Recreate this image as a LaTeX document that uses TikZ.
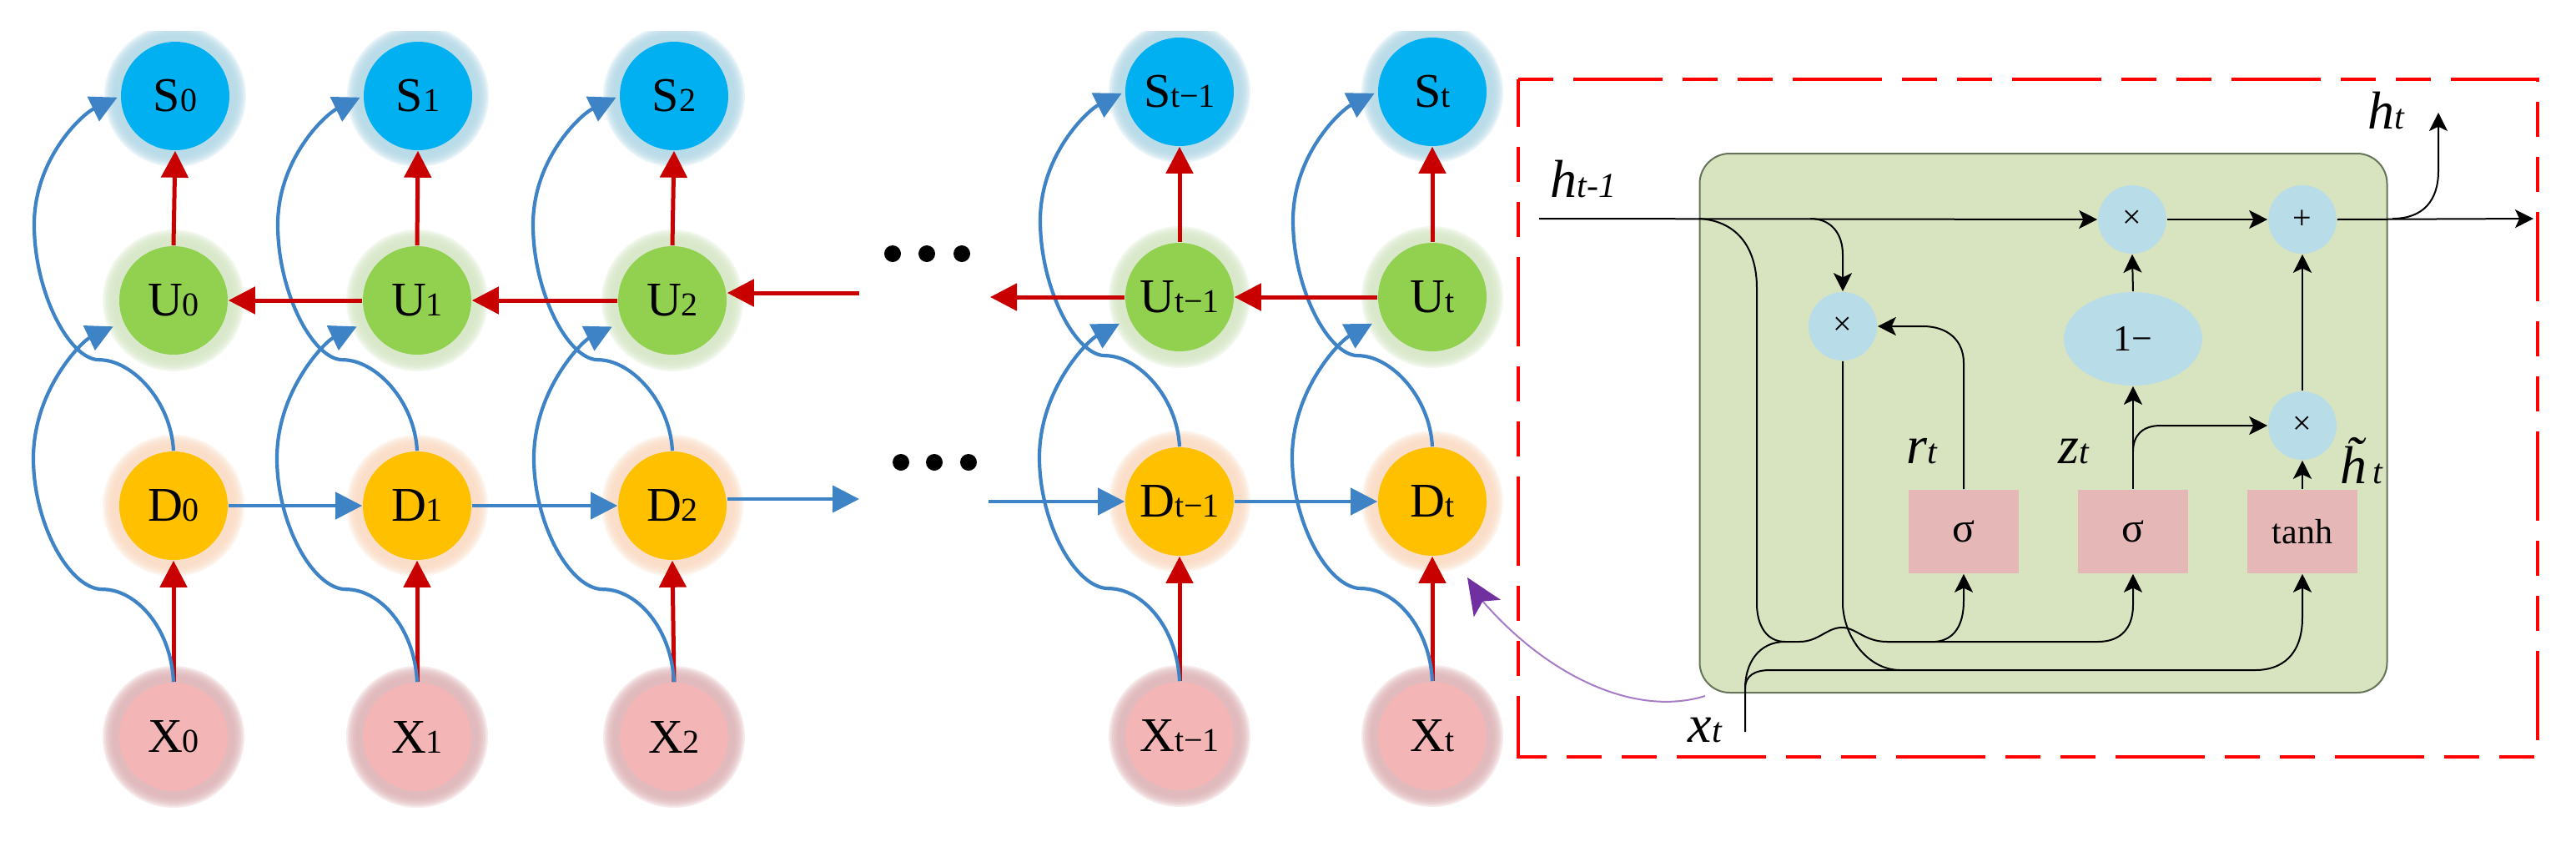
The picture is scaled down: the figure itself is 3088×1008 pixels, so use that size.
\documentclass[tikz,border=0pt]{standalone}
\usepackage{fontspec}
\setmainfont{Liberation Serif}
\usetikzlibrary{arrows.meta,calc,shapes.geometric}
\definecolor{cS}{HTML}{00B0F0}\definecolor{gS}{HTML}{B4DAE8}
\definecolor{cU}{HTML}{92D050}\definecolor{gU}{HTML}{D6E7C6}
\definecolor{cD}{HTML}{FFC000}\definecolor{gD}{HTML}{FBDCC4}
\definecolor{cX}{HTML}{F4B5B6}\definecolor{gX}{HTML}{DFB4B8}
\definecolor{bl}{HTML}{3F83C7}\definecolor{rd}{HTML}{C80000}
\definecolor{cell}{HTML}{D8E4BF}\definecolor{cellb}{HTML}{66745A}
\definecolor{op}{HTML}{B8DCE8}\definecolor{fn}{HTML}{E5B8B7}
\definecolor{pu}{HTML}{7030A0}\definecolor{pul}{HTML}{A67CC8}
\tikzset{
  main/.style={circle,minimum size=32.5pt,inner sep=0pt,text=black},
  redarrow/.style={draw=rd,line width=1.25pt,-{Triangle[length=8pt,width=8pt]}},
  bluearrow/.style={draw=bl,line width=1.05pt,-{Triangle[length=8pt,width=8pt]}},
  blk/.style={draw=black,line width=.5pt},
  blkarrow/.style={blk,-{Stealth[length=5.5pt,width=5.5pt,inset=1.3pt]}},
  opnode/.style={circle,fill=op,minimum size=20.5pt,inner sep=0pt,font=\fontsize{10}{12}\selectfont},
  fnnode/.style={rectangle,fill=fn,minimum width=33pt,minimum height=25pt,inner sep=0pt},
  lab/.style={inner sep=0pt,font=\itshape},
  dotmark/.style={circle,fill=black,minimum size=5pt,inner sep=0pt}
}
\newcommand{\lbl}[2]{\fontsize{14.5}{16}\selectfont #1\fontsize{10}{12}\selectfont #2}
\newcommand{\glownode}[6]{%
  \begin{scope}
  \clip (0,37) rectangle (3088,968);
  \foreach \r in {85,83,81,79,77,75,73}{\fill[#5,opacity=.28] (#2,#3) circle [radius=\r];}
  \end{scope}
  \node[main,fill=#4] (#1) at (#2,#3) {\lbl{#6}{\lblsub}};}
\newcommand{\itlab}[2]{\fontsize{16}{18}\selectfont #1\fontsize{10.5}{12}\selectfont #2}
\begin{document}
\begin{tikzpicture}[x=.25pt,y=-.25pt]
\useasboundingbox (0,0) rectangle (3088,1008);
\fill[white] (0,0) rectangle (3088,1008);
% main grid
\def\lblsub{0}
\glownode{S0}{210}{115}{cS}{gS}{S}\glownode{U0}{208}{360}{cU}{gU}{U}\glownode{D0}{208}{606}{cD}{gD}{D}\glownode{X0}{208}{883}{cX}{gX}{X}
\def\lblsub{1}
\glownode{S1}{501}{115}{cS}{gS}{S}\glownode{U1}{500}{360}{cU}{gU}{U}\glownode{D1}{500}{606}{cD}{gD}{D}\glownode{X1}{500}{883}{cX}{gX}{X}
\def\lblsub{2}
\glownode{S2}{808}{115}{cS}{gS}{S}\glownode{U2}{806}{360}{cU}{gU}{U}\glownode{D2}{806}{606}{cD}{gD}{D}\glownode{X2}{808}{883}{cX}{gX}{X}
\def\lblsub{t−1}
\glownode{Sm}{1414}{110}{cS}{gS}{S}\glownode{Um}{1414}{356}{cU}{gU}{U}\glownode{Dm}{1414}{601}{cD}{gD}{D}\glownode{Xm}{1414}{882}{cX}{gX}{X}
\def\lblsub{t}
\glownode{St}{1717}{110}{cS}{gS}{S}\glownode{Ut}{1717}{356}{cU}{gU}{U}\glownode{Dt}{1717}{601}{cD}{gD}{D}\glownode{Xt}{1717}{882}{cX}{gX}{X}
% vertical red and blue skip curves
\foreach \n in {0,1,2,m,t}{
  \draw[redarrow] (X\n.north) -- (D\n.south);
  \draw[redarrow] (U\n.north) -- (S\n.south);
  \draw[bluearrow,shorten >=3.25pt] (X\n.north)
    .. controls ($(X\n.north)+(-3,-65)$) and ($(X\n.north)+(-45,-111)$) .. ($(X\n.north)+(-85,-111)$)
    .. controls ($(X\n.north)+(-125,-111)$) and ($(X\n.north)+(-168,-190)$) .. ($(X\n.north)+(-168,-268)$)
    .. controls ($(X\n.north)+(-168,-350)$) and ($(X\n.north)+(-110,-408)$) .. (U\n.203);
  \draw[bluearrow,shorten >=1pt] (D\n.north)
    .. controls ($(D\n.north)+(-3,-60)$) and ($(D\n.north)+(-50,-109)$) .. ($(D\n.north)+(-89,-109)$)
    .. controls ($(D\n.north)+(-125,-109)$) and ($(D\n.north)+(-167,-190)$) .. ($(D\n.north)+(-167,-271)$)
    .. controls ($(D\n.north)+(-167,-350)$) and ($(D\n.north)+(-110,-403)$) .. (S\n.west);
}
% horizontals
\draw[redarrow] (U1.west) -- (U0.east);
\draw[redarrow] (U2.west) -- (U1.east);
\draw[redarrow] (Ut.west) -- (Um.east);
\coordinate (uin) at (1030,351);
\coordinate (uout) at (1187,356);
\coordinate (dout) at (1030,598);
\coordinate (din) at (1185,601);
\draw[redarrow] (uin) -- (U2.east |- uin);
\draw[redarrow] (Um.west) -- (uout);
\draw[bluearrow] (D0.east) -- (D1.west);
\draw[bluearrow] (D1.east) -- (D2.west);
\draw[bluearrow] (Dm.east) -- (Dt.west);
\draw[bluearrow] (D2.east |- dout) -- (dout);
\draw[bluearrow] (din) -- (Dm.west);
% dots
\foreach \i/\x/\y in {a/1070/304,b/1111/304,c/1153/304,d/1080/554,e/1120/554,f/1161/554}{
  \node[dotmark] (dot\i) at (\x,\y) {};
}
% red dashed frame
\draw[red,line width=1.15pt,dash pattern=on 26.75pt off 6pt on 10.5pt off 6pt on 10.5pt off 6pt,dash phase=49.25pt]
  (1820,95) -- (3042,95) -- (3042,907) -- (1820,907) -- cycle;
% cell
\node[draw=cellb,fill=cell,line width=.5pt,rounded corners=9pt,minimum width=206pt,minimum height=161.5pt,inner sep=0pt] (cell) at (2449.5,507) {};
% purple
\coordinate (pstart) at (2044,834);
\coordinate (ptip) at (1759,692);
\draw[pul,line width=.5pt] (pstart) .. controls (1960,860) and (1855,810) .. ($(ptip)+(18,28)$);
\draw[pu,line width=.5pt,-{Stealth[length=11pt,width=9.5pt,inset=2.5pt]}] ($(ptip)+(18,28)$) -- (ptip);
% operators
\node[opnode] (mt) at (2556,263) {×};
\node[opnode] (pl) at (2760,263) {+};
\node[opnode] (ml) at (2209,391) {×};
\node[ellipse,fill=op,minimum width=41.5pt,minimum height=28pt,inner sep=0pt,font=\fontsize{11}{13}\selectfont] (one) at (2557,406) {1−};
\node[opnode] (mr) at (2760,510) {×};
\node[fnnode,font=\fontsize{12.5}{14}\selectfont] (s1) at (2354,637) {σ};
\node[fnnode,font=\fontsize{12.5}{14}\selectfont] (s2) at (2557,637) {σ};
\node[fnnode,font=\fontsize{10.5}{12}\selectfont] (th) at (2760,637) {tanh};
% cell wiring
\coordinate (hin) at (1845,262);
\coordinate (hout) at (3037,262);
\coordinate (htop) at (2923,135);
\coordinate (xin) at (2092,877);
\draw[blkarrow] (hin) -- (mt.west);
\draw[blkarrow] (mt.east) -- (pl.west);
\draw[blkarrow] (pl.east) -- (hout);
\draw[blkarrow] (2868,262) .. controls (2905,262) and (2923,240) .. (2923,205) -- (htop);
\draw[blkarrow] (2170,262) .. controls (2195,262) and (2209,280) .. (2209,305) -- (ml.north);
\draw[blk] (2037,262) .. controls (2085,265) and (2106,300) .. (2106,345) -- (2106,723)
  .. controls (2106,750) and (2118,769) .. (2140,769) -- (2157,769)
  .. controls (2180,769) and (2190,752) .. (2208,752)
  .. controls (2225,752) and (2235,769) .. (2262,769) -- (2320,769);
\draw[blkarrow] (2320,769) .. controls (2342,767) and (2354,750) .. (2354,720) -- (s1.south);
\draw[blkarrow] (2262,769) -- (2515,769) .. controls (2540,769) and (2557,755) .. (2557,725) -- (s2.south);
\draw[blk] (ml.south) -- (2209,725) .. controls (2211,765) and (2240,803) .. (2278,803);
\draw[blkarrow] (2122,803) -- (2704,803) .. controls (2735,803) and (2760,785) .. (2760,740) -- (th.south);
\draw[blk] (xin) -- (2092,825) .. controls (2092,810) and (2103,803) .. (2122,803);
\draw[blk] (2092,825) .. controls (2092,795) and (2108,769) .. (2140,769);
\draw[blkarrow] (s1.north) -- (2354,435) .. controls (2354,408) and (2335,391) .. (2305,391) -- (ml.east);
\draw[blkarrow] (s2.north) -- (one.south);
\draw[blkarrow] (2557,541) .. controls (2557,522) and (2568,510) .. (2590,510) -- (mr.west);
\draw[blkarrow] (one.north) -- (mt.south);
\draw[blkarrow] (mr.north) -- (pl.south);
\draw[blkarrow] (th.north) -- (mr.south);
% labels
\node[lab] (lhp) at (1898,214) {\itlab{h}{t-1}};
\node[lab] (lh) at (2860,132) {\itlab{h}{t}};
\node[lab] (lr) at (2304,541) {\itlab{r}{t}};
\node[lab] (lz) at (2486,541) {\itlab{z}{t}};
\node[lab] (lht) at (2831,552) {\itlab{h̃}{\,t}};
\node[lab] (lx) at (2044,875) {\itlab{x}{t}};
\end{tikzpicture}
\end{document}
